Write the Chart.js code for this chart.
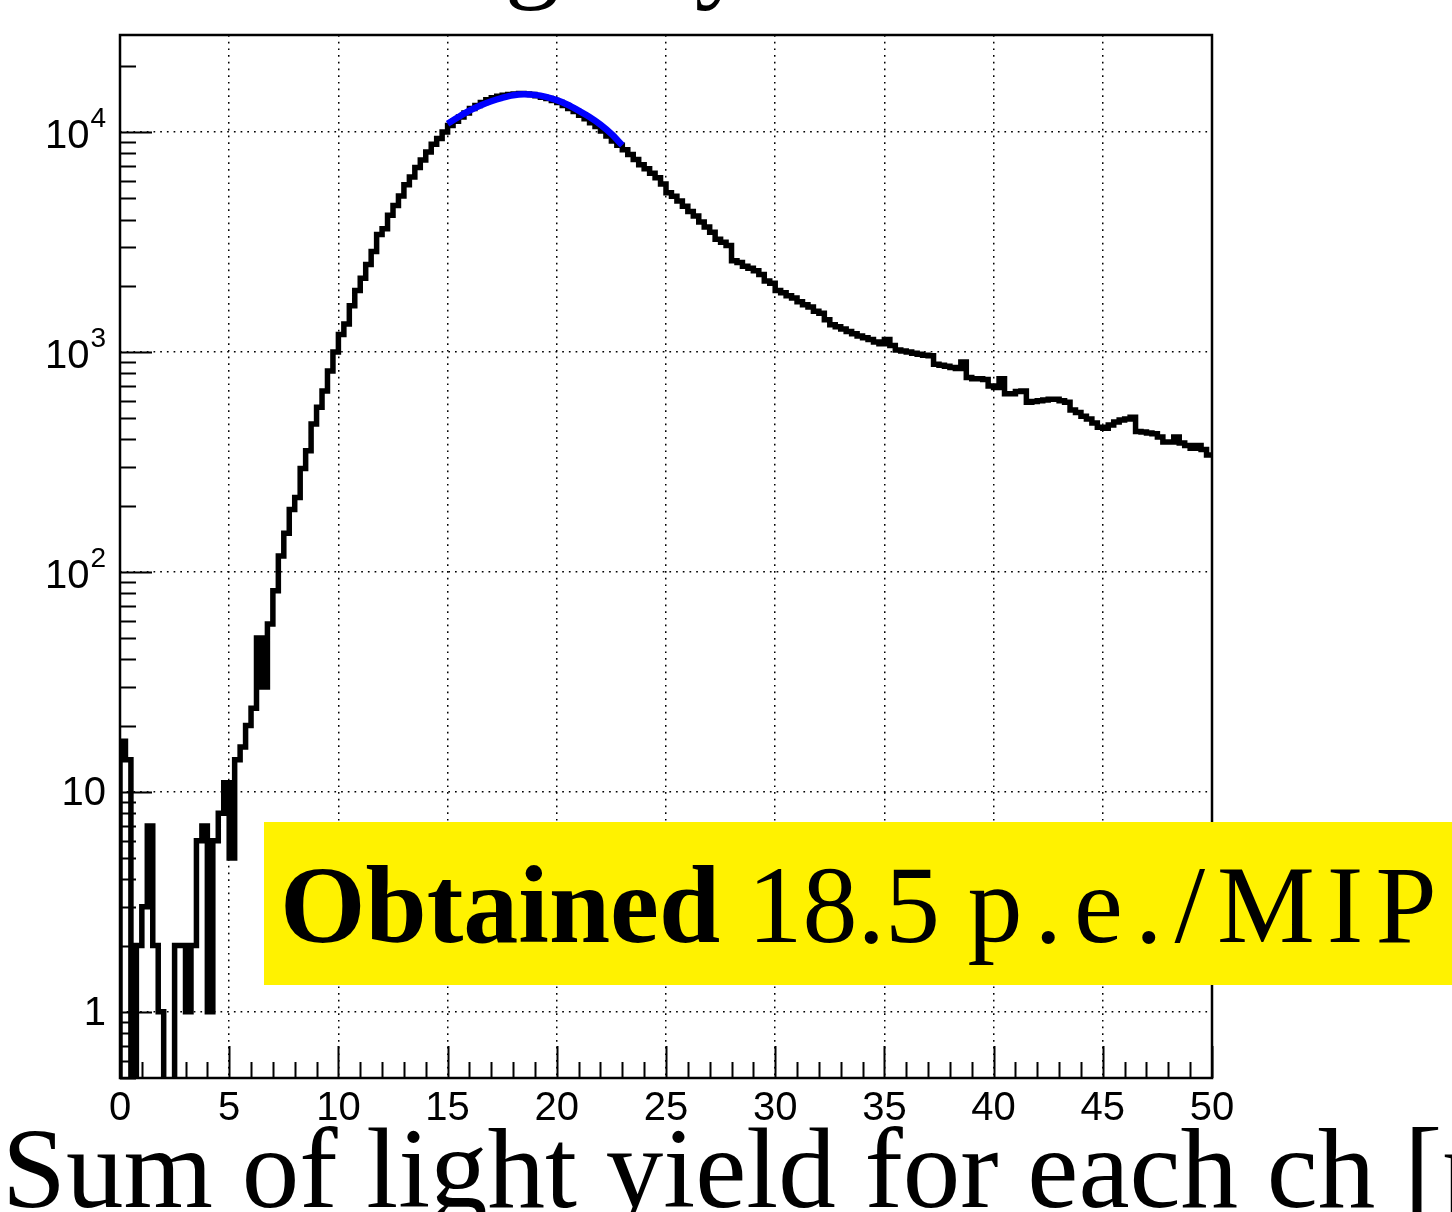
<!DOCTYPE html>
<html><head><meta charset="utf-8">
<script src="https://cdn.jsdelivr.net/npm/chart.js@4/dist/chart.umd.min.js"></script>
<style>
html,body{margin:0;padding:0;background:#fff;overflow:hidden;}
#wrap{position:relative;width:1452px;height:1212px;overflow:hidden;background:#fff;}
#c{position:absolute;left:0;top:0;}
.serif{font-family:"Liberation Serif","Times New Roman",serif;white-space:nowrap;position:absolute;color:#000;line-height:1;}
#title{left:407px;top:-104px;font-size:110px;word-spacing:22px;}
#xtitle{left:2px;top:1111px;font-size:115px;}
#box{position:absolute;left:264px;top:822px;width:1200px;height:163px;background:#fff200;}
#boxtext{left:280px;top:850px;font-size:110px;}
#boxtext b{font-weight:bold;}
#boxtext .sp{letter-spacing:12px;}
</style></head>
<body><div id="wrap">
<canvas id="c" width="1452" height="1212"></canvas>
<div id="title" class="serif">Light yield</div>
<div id="xtitle" class="serif">Sum of light yield for each ch [p.e.]</div>
<div id="box"></div>
<div id="boxtext" class="serif"><b>Obtained</b> 18.5 <span class="sp">p.e./MIP</span></div>
</div>
<script>
// ---- data ----
const xMin = 0, xMax = 50, binWidth = 0.25;
const counts = [
 17,14,0,2,3,7,2,1,0,0, 2,2,1,2,6,7,1,6,8,11,
 5,14,16,20,24,50,30,58,82,118, 150,192,218,295,355,470,560,665,820,1000,
 1200,1340,1620,1900,2160,2500,2860,3420,3630,4180, 4630,5120,5760,6240,6900,7460,8100,8800,9330,10000,
 10700,11200,11700,12200,12800,13200,13600,14000,14300,14550, 14700,14800,14900,14950,14900,14800,14600,14400,14200,13900,
 13600,13200,12800,12400,11900,11500,11000,10600,10100,9600, 9100,8700,8300,7900,7500,7100,6800,6500,6200,5800,
 5300,5100,4850,4600,4350,4150,3900,3700,3500,3250, 3150,3050,2600,2550,2450,2400,2340,2250,2100,2050,
 1900,1860,1800,1760,1690,1640,1600,1530,1500,1400, 1330,1300,1270,1240,1210,1180,1160,1140,1110,1090,
 1140,1070,1020,1010,1000,985,975,965,960,880, 870,860,850,840,900,765,755,755,750,700,
 690,755,645,645,660,665,590,595,600,605, 610,610,600,590,545,530,510,495,475,455,
 450,465,480,490,495,505,435,432,428,425, 410,390,390,410,385,375,365,375,360,340
];
const fitX = [15,15.5,16,16.5,17,17.5,18,18.5,19,19.5,20,20.5,21,21.5,22,22.5,23];
const fitY = [10900,11700,12500,13200,13800,14300,14700,14850,14750,14450,13950,13300,12500,11700,10800,9800,8700];
const xTickLabels = ['0','5','10','15','20','25','30','35','40','45','50'];
const yDecades = [1,10,100,1000,10000];
const yTickBase = ['1','10','10','10','10'];
const yTickExp = ['','','2','3','4'];
const yMin = 0.5, yMax = 27600;
const zeroFloor = 0.1; // empty bins are drawn below the axis floor (log scale)

// ---- build datasets ----
const histPts = [{x:xMin, y:zeroFloor}].concat(counts.map((c,i)=>({x:xMin+i*binWidth, y:c>0?c:zeroFloor})));
histPts.push({x:xMax, y:counts[counts.length-1]});
const fitPts = fitX.map((x,i)=>({x, y:fitY[i]}));

const rootAxes = {
  id:'rootAxes',
  beforeDatasetsDraw(chart){
    const {ctx, chartArea:a, scales:{x,y}} = chart;
    ctx.save();
    ctx.strokeStyle='#000'; ctx.lineWidth=2; ctx.lineCap='butt';
    ctx.beginPath();
    for(let v=xMin; v<=xMax; v+=1){
      const px = Math.round(x.getPixelForValue(v))+0.5;
      const len = (v%5===0)?32:16;
      ctx.moveTo(px,a.bottom); ctx.lineTo(px,a.bottom-len);
    }
    for(let e=-1; e<=5; e++){
      for(let m=1;m<=9;m++){
        const v = m*Math.pow(10,e);
        if(v<yMin||v>yMax) continue;
        const py = Math.round(y.getPixelForValue(v))+0.5;
        const len = (m===1)?32:16;
        ctx.moveTo(a.left,py); ctx.lineTo(a.left+len,py);
      }
    }
    ctx.stroke();
    ctx.restore();
  },
  afterDatasetsDraw(chart){
    const {ctx, chartArea:a, scales:{y}} = chart;
    ctx.save(); ctx.strokeStyle='#000'; ctx.lineWidth=2.5;
    ctx.strokeRect(a.left,a.top,a.right-a.left,a.bottom-a.top);
    // y tick labels (ROOT style 10^n)
    ctx.fillStyle='#000'; ctx.textBaseline='middle';
    const right = a.left - 14;
    yDecades.forEach((v,i)=>{
      const py = y.getPixelForValue(v);
      if(yTickExp[i]){
        ctx.font='28px "Liberation Sans", Arial, sans-serif';
        ctx.textAlign='right';
        ctx.fillText(yTickExp[i], right, py-13);
        const ew = ctx.measureText(yTickExp[i]).width;
        ctx.font='40px "Liberation Sans", Arial, sans-serif';
        ctx.fillText(yTickBase[i], right-ew-1, py+5);
      } else {
        ctx.font='40px "Liberation Sans", Arial, sans-serif';
        ctx.textAlign='right';
        ctx.fillText(yTickBase[i], right, py+2);
      }
    });
    ctx.restore();
  }
};

Chart.defaults.font.family = '"Liberation Sans", Arial, sans-serif';
Chart.defaults.color = '#000';

new Chart(document.getElementById('c'), {
  type:'line',
  data:{datasets:[
    {label:'fit', data:fitPts, borderColor:'#0000ff', borderWidth:6.5, pointRadius:0, tension:0.4, cubicInterpolationMode:'monotone', fill:false, order:0},
    {label:'hist', data:histPts, borderColor:'#000', borderWidth:5.5, pointRadius:0, stepped:true, borderJoinStyle:'miter', fill:false, order:1}
  ]},
  options:{
    responsive:false, animation:false, devicePixelRatio:1,
    layout:{padding:{left:0,right:240,top:35,bottom:0}},
    plugins:{legend:{display:false}, tooltip:{enabled:false}},
    scales:{
      x:{type:'linear', min:xMin, max:xMax,
        afterFit(s){ s.height = 134; },
        grid:{color:'#000', lineWidth:1.5, drawTicks:false, tickLength:0},
        border:{display:false, dash:[1.7,5]},
        ticks:{stepSize:5, padding:7, maxRotation:0, autoSkip:false, font:{size:40},
          callback:(v)=>{const i = xTickLabels.indexOf(String(v)); return i>=0?xTickLabels[i]:'';}}
      },
      y:{type:'logarithmic', min:yMin, max:yMax,
        afterFit(s){ s.width = 120; },
        afterBuildTicks(s){ s.ticks = yDecades.map(v=>({value:v, major:true})); },
        grid:{color:'#000', lineWidth:1.5, drawTicks:false, tickLength:0},
        border:{display:false, dash:[1.7,5]},
        ticks:{display:false}
      }
    }
  },
  plugins:[rootAxes]
});
</script>
</body></html>
